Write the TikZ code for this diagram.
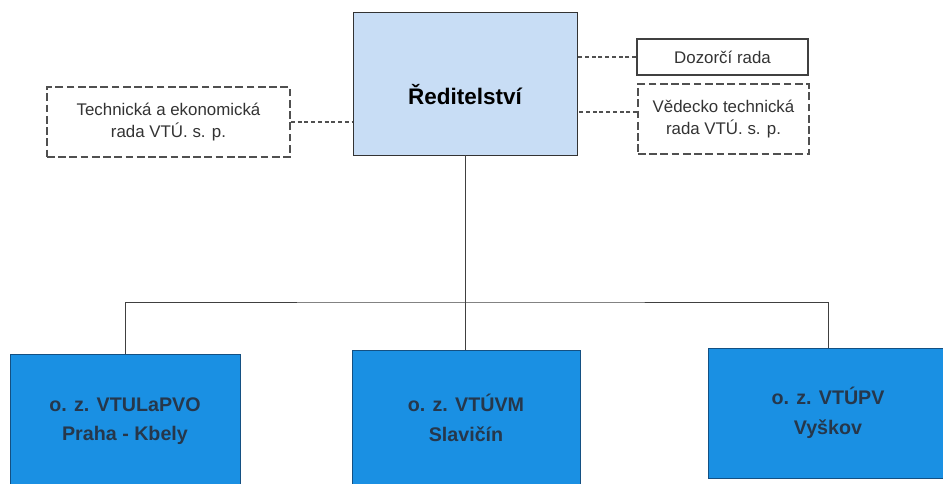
\documentclass[tikz,border=0pt]{standalone}
\usepackage{fontspec}
\setmainfont{Liberation Sans}
\usetikzlibrary{positioning}
\definecolor{headfill}{RGB}{200,221,245}
\definecolor{unitfill}{RGB}{26,144,227}
\definecolor{unitedge}{RGB}{20,80,130}
\definecolor{unittext}{RGB}{38,55,75}
\definecolor{boardedge}{RGB}{80,80,80}

\begin{document}
\begin{tikzpicture}[
    council/.style={draw=boardedge, dashed, dash pattern=on 5.5pt off 2.5pt, line width=1.1pt, minimum width=6.075cm, minimum height=1.75cm, align=center, text=black!80, font=\fontsize{12}{16}\selectfont},
    unit/.style={draw=unitedge, fill=unitfill, line width=0.5pt, align=center, text=unittext, font=\fontsize{14}{21}\selectfont\bfseries},
    link/.style={boardedge, dashed, dash pattern=on 3pt off 1.8pt, line width=0.9pt},
    tree/.style={black!75, line width=0.7pt}
]
    \useasboundingbox (0, 0) rectangle (23.575, 12.1);

    \node[draw=black!80, fill=headfill, line width=0.7pt, minimum width=5.6cm, minimum height=3.55cm, text height=30pt, font=\fontsize{16}{18}\selectfont\bfseries] (red) at (11.625, 10.0) {Ředitelství};

    \node[council] (tev) at (4.2125, 9.05) {Technická a ekonomická\\rada VTÚ. s. p.};
    \node[draw=black!75, line width=1.1pt, minimum width=4.275cm, minimum height=0.9cm, text=black!80, font=\fontsize{12}{14}\selectfont] (dozor) at (18.0625, 10.675) {Dozorčí rada};
    \node[council, minimum width=4.275cm] (vtr) at (18.0875, 9.125) {Vědecko technická\\rada VTÚ. s. p.};

    \node[unit, minimum width=5.75cm, minimum height=3.35cm] (pkb) at (3.125, 1.575) {o. z. VTULaPVO\\Praha - Kbely};
    \node[unit, minimum width=5.7cm, minimum height=3.4cm] (sla) at (11.65, 1.65) {o. z. VTÚVM\\Slavičín};
    \node[unit, minimum width=6.0cm, minimum height=3.25cm] (vys) at (20.7, 1.775) {o. z. VTÚPV\\Vyškov};

    \coordinate (bus) at (11.625, 4.55);

    \draw[link] (tev.east) -- (tev.east -| red.west);
    \draw[link] (dozor.west) -- (dozor.west -| red.east);
    \draw[link] ([yshift=5pt]vtr.west) -- ([yshift=5pt]vtr.west -| red.east);

    \draw[tree] (red.south) -- (red.south |- sla.north);
    \draw[tree] (pkb.north) |- (bus) -| (vys.north);
\end{tikzpicture}
\end{document}
